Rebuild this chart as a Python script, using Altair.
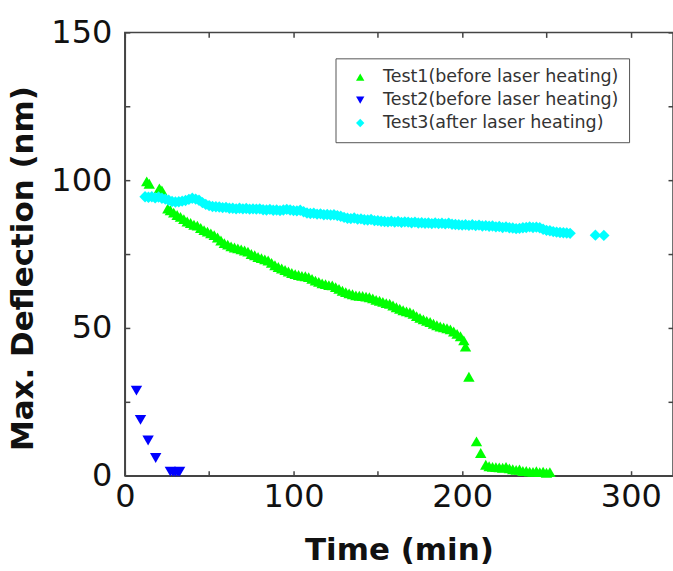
import altair as alt
import pandas as pd

series_names = ["Test1(before laser heating)", "Test2(before laser heating)", "Test3(after laser heating)"]
series_colors = ["#00ff00", "#0000ff", "#00ffff"]
series_shapes = ["triangle-up", "triangle-down", "diamond"]

t1_time = [13.0, 14.5, 20.5, 22.0, 25.5, 27, 29, 31, 33, 35, 37, 39, 41, 43, 45, 47, 49, 51, 53, 55,
           57, 59, 61, 63, 65, 67, 69, 71, 73, 75, 77, 79, 81, 83, 85, 87, 89, 91, 93, 95,
           97, 99, 101, 103, 105, 107, 109, 111, 113, 115, 117, 119, 121, 123, 125, 127, 129, 131, 133, 135,
           137, 139, 141, 143, 145, 147, 149, 151, 153, 155, 157, 159, 161, 163, 165, 167, 169, 171, 173, 175,
           177, 179, 181, 183, 185, 187, 189, 191, 193, 195, 197, 199, 201, 202, 204, 208.5, 211, 214, 216, 218,
           220, 222, 224, 226, 228, 230, 232, 234, 236, 238, 240, 242, 244, 246, 248, 250, 252]
t1_defl = [99.6, 98.8, 97.2, 96.5, 90.4, 89.8, 89.0, 88.2, 87.6, 86.8, 86.0, 85.5, 84.9, 84.6, 83.8, 83.1, 82.6, 82.0, 81.4, 80.6,
           79.6, 78.7, 78.2, 77.6, 77.2, 76.9, 76.6, 76.2, 75.8, 75.0, 74.6, 74.0, 73.6, 73.2, 72.8, 72.0, 71.2, 70.6, 70.1, 69.6,
           69.1, 68.6, 68.2, 67.9, 67.6, 67.5, 67.2, 66.6, 66.0, 65.6, 65.1, 64.8, 64.5, 64.4, 63.8, 63.2, 62.6, 62.1, 61.7, 61.4,
           61.0, 60.9, 60.8, 60.6, 60.4, 60.0, 59.5, 59.2, 58.8, 58.4, 58.2, 57.6, 57.0, 56.5, 56.0, 55.6, 55.3, 54.8, 54.0, 53.4,
           52.9, 52.4, 52.0, 51.4, 50.9, 50.5, 50.2, 49.9, 49.5, 48.8, 48.0, 47.2, 45.8, 43.7, 33.5, 11.6, 7.7, 3.7, 3.2, 3.0,
           2.9, 2.8, 2.7, 3.0, 2.5, 2.2, 2.0, 2.1, 1.6, 1.6, 1.4, 1.3, 1.5, 1.2, 1.4, 1.0, 1.2]

t2_time = [6.9, 9.3, 13.8, 18.3, 27.0, 28.5, 30.0, 31.5, 32.5]
t2_defl = [28.8, 18.9, 11.9, 6.0, 1.4, 1.3, 1.2, 1.3, 1.4]

t3_time = [12, 14, 16, 18, 20, 22, 24, 26, 28, 30, 32, 34, 36, 38, 40, 42, 44, 46, 48, 50,
           52, 54, 56, 58, 60, 62, 64, 66, 68, 70, 72, 74, 76, 78, 80, 82, 84, 86, 88, 90,
           92, 94, 96, 98, 100, 102, 104, 106, 108, 110, 112, 114, 116, 118, 120, 122, 124, 126, 128, 130,
           132, 134, 136, 138, 140, 142, 144, 146, 148, 150, 152, 154, 156, 158, 160, 162, 164, 166, 168, 170,
           172, 174, 176, 178, 180, 182, 184, 186, 188, 190, 192, 194, 196, 198, 200, 202, 204, 206, 208, 210,
           212, 214, 216, 218, 220, 222, 224, 226, 228, 230, 232, 234, 236, 238, 240, 242, 244, 246, 248, 250,
           252, 254, 256, 258, 260, 262, 264, 279, 284]
t3_defl = [94.4, 94.2, 94.4, 94.0, 94.3, 93.9, 93.6, 93.2, 92.8, 92.6, 92.7, 92.9, 93.1, 93.5, 93.9, 93.6, 93.2, 92.4, 91.8, 91.4,
           91.1, 91.0, 90.9, 90.7, 90.8, 90.5, 90.5, 90.3, 90.5, 90.3, 90.4, 90.2, 90.3, 90.2, 90.3, 90.0, 89.9, 90.1, 89.8, 89.9,
           89.7, 89.9, 90.1, 89.9, 89.7, 89.6, 89.8, 89.3, 88.9, 88.7, 88.8, 88.5, 88.6, 88.3, 88.4, 88.2, 88.3, 88.0, 87.8, 87.4,
           87.1, 87.0, 87.2, 86.8, 86.9, 86.6, 86.5, 86.7, 86.3, 86.3, 86.1, 86.0, 85.9, 86.1, 85.8, 86.0, 85.7, 85.9, 85.8, 85.6,
           85.8, 85.5, 85.6, 85.4, 85.5, 85.3, 85.5, 85.3, 85.4, 85.2, 85.4, 85.1, 85.0, 84.9, 84.8, 84.9, 84.7, 84.9, 84.6, 84.8,
           84.5, 84.6, 84.4, 84.5, 84.2, 84.3, 84.0, 84.2, 83.9, 83.8, 83.6, 83.7, 83.9, 84.0, 84.2, 84.0, 84.1, 83.9, 83.4, 83.0,
           82.9, 82.6, 82.4, 82.3, 82.2, 82.1, 82.0, 81.4, 81.3]

x_label_values = [0, 100, 200, 300]
x_tick_values = [0, 50, 100, 150, 200, 250, 300]
y_label_values = [0, 50, 100, 150]
y_tick_values = [0, 25, 50, 75, 100, 125, 150]

frames = []
for name, tt, dd in [(series_names[0], t1_time, t1_defl),
                     (series_names[1], t2_time, t2_defl),
                     (series_names[2], t3_time, t3_defl)]:
    frames.append(pd.DataFrame({"time": tt, "defl": dd, "series": name}))
df = pd.concat(frames, ignore_index=True)

W, H = 549, 444
FONT = "DejaVu Sans"
AX = "#444444"

xs = alt.Scale(domain=[0, 325], nice=False, zero=False)
ys = alt.Scale(domain=[0, 150], nice=False, zero=False)

base = alt.Chart(df)

legend = alt.Legend(
    title=None, orient="none", legendX=211, legendY=26,
    strokeColor="#555555", fillColor="white", padding=10, rowPadding=4,
    symbolSize=70, symbolStrokeWidth=0, labelFontSize=17.5, labelFont=FONT,
    labelColor="#333333", labelOffset=14, symbolOffset=6, labelLimit=500,
)

points = base.mark_point(filled=True, size=130, opacity=1).encode(
    x=alt.X("time:Q", scale=xs, axis=alt.Axis(
        values=x_label_values, ticks=False, grid=False, domain=True, domainColor=AX, domainWidth=1.5,
        labelFontSize=32, labelFont=FONT, labelColor="#111111", labelPadding=6, labelFlush=False,
        title="Time (min)", titleFont=FONT, titleFontSize=31, titleFontWeight="bold",
        titleColor="#111111", titleY=75, titleBaseline="middle")),
    y=alt.Y("defl:Q", scale=ys, axis=alt.Axis(
        values=y_label_values, ticks=False, grid=False, domain=True, domainColor=AX, domainWidth=1.5,
        labelFontSize=32, labelFont=FONT, labelColor="#111111", labelPadding=13, labelFlush=False,
        title="Max. Deflection (nm)", titleFont=FONT, titleFontSize=31, titleFontWeight="bold",
        titleColor="#111111", titleX=-101, titleY=236, titleBaseline="middle")),
    color=alt.Color("series:N", scale=alt.Scale(domain=series_names, range=series_colors), legend=legend),
    shape=alt.Shape("series:N", scale=alt.Scale(domain=series_names, range=series_shapes), legend=legend),
)

def tick_layer(xaxis, yaxis):
    return base.mark_point(opacity=0).encode(
        x=alt.X("time:Q", scale=xs, axis=xaxis),
        y=alt.Y("defl:Q", scale=ys, axis=yaxis),
    )

tick_kw = dict(labels=False, domain=False, grid=False, title=None, tickSize=5, tickColor=AX, tickWidth=1.5)
bottom_in = tick_layer(alt.Axis(orient="top", offset=-H, values=x_tick_values, **tick_kw), None)
top_in = tick_layer(alt.Axis(orient="bottom", offset=-H, values=x_tick_values, **tick_kw), None)
left_in = tick_layer(None, alt.Axis(orient="right", offset=-W, values=y_tick_values, **tick_kw))
right_in = tick_layer(None, alt.Axis(orient="left", offset=-W, values=y_tick_values, **tick_kw))

chart = alt.layer(points, bottom_in, top_in, left_in, right_in).resolve_axis(
    x="independent", y="independent"
).properties(
    width=W, height=H,
    autosize=alt.AutoSizeParams(type="none"),
    padding={"left": 125, "top": 32, "right": 0, "bottom": 95},
).configure_view(stroke=AX, strokeWidth=1.5)

chart.save("out.html", embed_options={"renderer": "svg", "actions": False})
